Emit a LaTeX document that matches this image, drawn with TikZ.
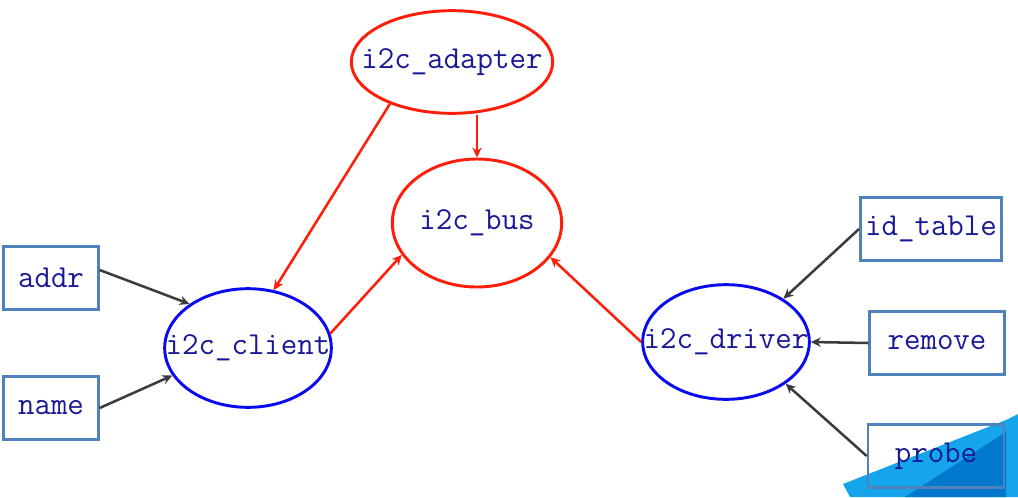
\documentclass[tikz,border=0pt]{standalone}
\usepackage{fontspec}
\usepackage{tikz}
\tikzset{x=.75pt,y=-.75pt}
\usetikzlibrary{arrows.meta, shapes.geometric}
\definecolor{busred}{RGB}{255,30,10}
\definecolor{devblue}{RGB}{10,10,240}
\definecolor{boxblue}{RGB}{79,129,189}
\definecolor{labelnavy}{RGB}{25,25,150}
\definecolor{wire}{RGB}{60,60,60}
\definecolor{markblue}{RGB}{20,165,235}
\definecolor{markdeep}{RGB}{0,120,205}
\def\flat#1{\makebox[0pt]{#1}}

\begin{document}
\begin{tikzpicture}[
  every node/.append style={text=labelnavy, font=\ttfamily\fontsize{24}{28}\selectfont},
  core/.style={ellipse, draw=busred, line width=2.2pt, inner sep=0pt},
  dev/.style={ellipse, draw=devblue, line width=2.2pt, inner sep=0pt},
  field/.style={rectangle, draw=boxblue, line width=2pt, inner sep=0pt, minimum height=47pt},
  link/.style={busred, line width=1.9pt, -{Stealth[length=7.5pt,width=7pt]}},
  feed/.style={wire, line width=1.9pt, -{Stealth[length=7.5pt,width=7pt]}}]
    \useasboundingbox (0,0) rectangle (1018,497);
    % corner mark
    \fill[markblue] (843,484) -- (1006,420) -- (1018,414) -- (1018,497) -- (850,497) -- cycle;
    \fill[markdeep] (905,497) -- (1006,432) -- (1006,497) -- cycle;
    % core
    \node[core, minimum width=151pt, minimum height=77pt] (adapter) at (452,62) {\flat{i2c\_adapter}};
    \node[core, minimum width=127pt, minimum height=96pt] (bus) at (477,223) {\flat{i2c\_bus}};
    % devices
    \node[dev, minimum width=125pt, minimum height=89pt] (client) at (248,348) {\flat{i2c\_client}};
    \node[dev, minimum width=125pt, minimum height=86pt] (driver) at (726,342) {\flat{i2c\_driver}};
    % fields
    \node[field, minimum width=71pt] (addr) at (51,278) {addr};
    \node[field, minimum width=71pt] (name) at (51,408) {name};
    \node[field, minimum width=106pt] (idtable) at (931,229) {id\_table};
    \node[field, minimum width=101pt] (remove) at (937,343) {remove};
    \node[field, minimum width=102pt] (probe) at (936,456) {probe};
    % links
    \draw[link] (adapter.214) -- (client.66);
    \draw[link] (adapter.south -| bus.north) -- (bus.north);
    \draw[link] (client.10) -- (bus.203);
    \draw[link] (driver.west) -- (bus.335);
    \draw[feed] ([yshift=6pt]addr.east) -- (client.143);
    \draw[feed] (name.east) -- (client.200);
    \draw[feed] (idtable.west) -- (driver.37);
    \draw[feed] (remove.west) -- (driver.east);
    \draw[feed] (probe.west) -- (driver.-35);
\end{tikzpicture}
\end{document}
